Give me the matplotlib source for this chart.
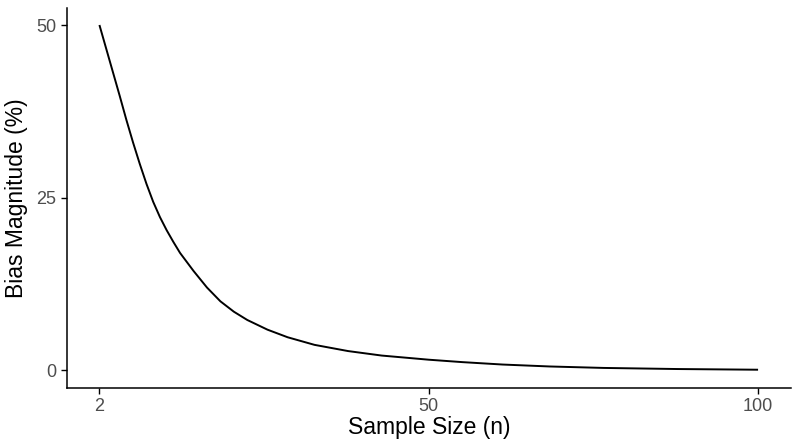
import matplotlib
matplotlib.use("Agg")
import matplotlib.pyplot as plt

# values
sample_size = [2, 4, 5, 6, 7, 8, 9, 10, 11, 12, 13, 14, 16, 18, 20, 22, 24,
               27, 30, 34, 39, 44, 51, 56, 62, 69, 77, 88, 100]
bias_pct = [50.0, 43.2, 39.8, 36.3, 33.0, 29.9, 27.0, 24.4, 22.2, 20.3,
            18.6, 17.0, 14.4, 12.0, 10.0, 8.5, 7.3, 5.9, 4.8, 3.7, 2.8,
            2.15, 1.55, 1.2, 0.85, 0.57, 0.36, 0.2, 0.1]
# the reference ticks sit evenly spaced along the axis
x_tick_pos = [2, 51, 100]
x_tick_labels = ["2", "50", "100"]
y_ticks = [0, 25, 50]

plt.rcParams["font.family"] = ["Liberation Sans", "DejaVu Sans"]

fig = plt.figure(figsize=(8, 4.47), dpi=100)
ax = fig.add_axes([66.5 / 800, 0.1327, (791 - 66.5) / 800, 0.85])

ax.plot(sample_size, bias_pct, color="black", lw=1.4,
        solid_joinstyle="round", solid_capstyle="butt")

ax.set_xlim(-2.9, 104.9)
ax.set_ylim(-2.5, 52.5)
ax.set_xticks(x_tick_pos, x_tick_labels)
ax.set_yticks(y_ticks)
ax.tick_params(labelsize=13, labelcolor="#4d4d4d", length=4.5, width=1.0, pad=3)

for side in ["top", "right"]:
    ax.spines[side].set_visible(False)
for side in ["left", "bottom"]:
    ax.spines[side].set_linewidth(1.1)

ax.set_xlabel("Sample Size (n)", fontsize=16.5, labelpad=1)
ax.set_ylabel("Bias Magnitude (%)", fontsize=16.5, labelpad=6)

fig.savefig("out.png", dpi=100)
